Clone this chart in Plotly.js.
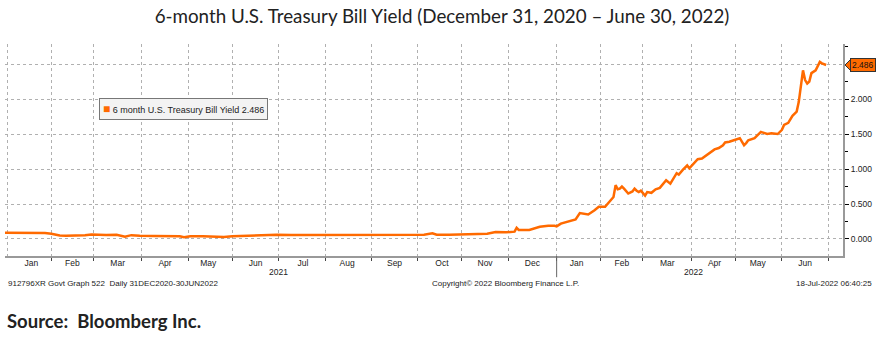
<!DOCTYPE html>
<html>
<head>
<meta charset="utf-8">
<script src="https://cdn.plot.ly/plotly-3.0.1.min.js"></script>
<style>html,body{margin:0;padding:0;background:#fff;}#chart{width:884px;height:337px;}</style>
</head>
<body>
<div id="chart"></div>
<script>
// ---- Data ----
const dates = [
  "2020-12-31","2021-01-08","2021-01-15","2021-01-22","2021-01-27","2021-02-01","2021-02-05","2021-02-10",
  "2021-02-16","2021-02-19","2021-02-23","2021-02-26","2021-03-03","2021-03-09","2021-03-16","2021-03-19",
  "2021-03-22","2021-03-25","2021-03-31","2021-04-09","2021-04-16","2021-04-23","2021-04-27","2021-04-29",
  "2021-05-04","2021-05-12","2021-05-19","2021-05-26","2021-06-01","2021-06-08","2021-06-15","2021-06-22",
  "2021-06-30","2021-07-09","2021-07-20","2021-07-30","2021-08-10","2021-08-20","2021-08-31","2021-09-10",
  "2021-09-17","2021-09-24","2021-09-30","2021-10-06","2021-10-12","2021-10-14","2021-10-22","2021-10-29",
  "2021-11-05","2021-11-10","2021-11-17","2021-11-23","2021-11-30","2021-12-06","2021-12-07","2021-12-08",
  "2021-12-15","2021-12-22","2021-12-28","2021-12-31",
  "2022-01-03","2022-01-05","2022-01-07","2022-01-11","2022-01-14","2022-01-18","2022-01-20","2022-01-24",
  "2022-01-27","2022-01-31","2022-02-03","2022-02-07","2022-02-08","2022-02-09","2022-02-10","2022-02-11",
  "2022-02-14","2022-02-15","2022-02-16","2022-02-18","2022-02-22","2022-02-23","2022-02-24","2022-02-25",
  "2022-02-28","2022-03-02","2022-03-03","2022-03-07","2022-03-09","2022-03-11","2022-03-16","2022-03-18",
  "2022-03-23","2022-03-24","2022-03-28","2022-03-30","2022-03-31","2022-04-04","2022-04-06","2022-04-08",
  "2022-04-13","2022-04-18","2022-04-20","2022-04-22","2022-04-25","2022-04-27","2022-05-04","2022-05-06",
  "2022-05-09","2022-05-10","2022-05-13","2022-05-17","2022-05-18","2022-05-23","2022-05-25","2022-05-30",
  "2022-06-01","2022-06-02","2022-06-06","2022-06-08","2022-06-10","2022-06-13","2022-06-14","2022-06-15",
  "2022-06-16","2022-06-17","2022-06-20","2022-06-21","2022-06-23","2022-06-27","2022-06-28","2022-06-30"
];
const yields = [
  0.090,0.090,0.090,0.090,0.085,0.075,0.050,0.047,
  0.050,0.050,0.055,0.065,0.060,0.058,0.060,0.045,
  0.033,0.055,0.045,0.043,0.043,0.050,0.040,0.025,
  0.040,0.040,0.035,0.030,0.040,0.045,0.050,0.058,
  0.060,0.058,0.058,0.058,0.058,0.055,0.058,0.055,
  0.050,0.055,0.055,0.060,0.080,0.060,0.060,0.065,
  0.065,0.075,0.075,0.100,0.095,0.105,0.160,0.130,
  0.130,0.175,0.190,0.190,
  0.180,0.220,0.240,0.260,0.280,0.370,0.360,0.350,
  0.410,0.460,0.460,0.530,0.560,0.600,0.770,0.710,
  0.720,0.750,0.720,0.650,0.680,0.720,0.690,0.670,
  0.690,0.620,0.670,0.660,0.710,0.730,0.840,0.790,
  0.940,0.920,0.990,1.050,1.010,1.080,1.140,1.150,
  1.210,1.280,1.300,1.340,1.380,1.390,1.440,1.340,
  1.370,1.410,1.440,1.510,1.530,1.500,1.510,1.500,
  1.560,1.630,1.660,1.760,1.820,1.960,2.220,2.410,
  2.270,2.220,2.250,2.370,2.410,2.530,2.510,2.486
];
const seriesName = "6 month U.S. Treasury Bill Yield";
const yearLabels = ["2021", "2022"];
const yearLabelDates = ["2021-07-01", "2022-04-04"];
const yearStart = "2022-01-01";

const lastVal = yields[yields.length - 1];
const orange = "#ff6a00";
const smallFam = "Liberation Sans, Arial, sans-serif";
const smallFont = {family: smallFam, size: 8, color: "#222"};

const trace = {
  x: dates, y: yields, type: "scatter", mode: "lines",
  line: {color: orange, width: 2.5, shape: "linear"},
  name: seriesName, showlegend: false, hoverinfo: "x+y"
};

const annotations = [
  {xref: "paper", yref: "paper", x: 0.112, y: 0.693, xanchor: "left", yanchor: "middle",
   text: '<span style="color:' + orange + ';font-size:12px">\u25A0</span> ' + seriesName + " " + lastVal.toFixed(3),
   showarrow: false, font: {family: smallFam, size: 9, color: "#222"},
   bgcolor: "#f3f3f3", bordercolor: "#777", borderwidth: 1, borderpad: 3},
  {xref: "paper", yref: "y", x: 1, y: lastVal, xanchor: "left", yanchor: "middle", xshift: 7,
   text: lastVal.toFixed(3), showarrow: false, font: {family: smallFam, size: 8.5, color: "#111"},
   bgcolor: orange, bordercolor: "#333", borderwidth: 1, borderpad: 1},
  {xref: "paper", yref: "paper", x: 0, y: 0, xanchor: "left", yanchor: "middle", xshift: 1, yshift: -27,
   text: "912796XR Govt Graph 522&nbsp;&nbsp;Daily 31DEC2020-30JUN2022", showarrow: false, font: smallFont},
  {xref: "paper", yref: "paper", x: 0.597, y: 0, xanchor: "center", yanchor: "middle", yshift: -27,
   text: "Copyright\u00A9 2022 Bloomberg Finance L.P.", showarrow: false, font: smallFont},
  {xref: "paper", yref: "paper", x: 1.037, y: 0, xanchor: "right", yanchor: "middle", yshift: -27,
   text: "18-Jul-2022 06:40:25", showarrow: false, font: smallFont},
  {xref: "paper", yref: "paper", x: 0, y: 0, xanchor: "left", yanchor: "middle", xshift: 0, yshift: -65,
   text: "<b>Source:&nbsp;&nbsp;Bloomberg Inc.</b>", showarrow: false,
   font: {family: "Lato, Calibri, sans-serif", size: 18.5, color: "#222"}}
];
yearLabels.forEach(function (t, i) {
  annotations.push({xref: "x", yref: "paper", x: yearLabelDates[i], y: 0, yanchor: "middle", yshift: -16,
    text: t, showarrow: false, font: {family: smallFam, size: 8.5, color: "#222"}});
});

const layout = {
  width: 884, height: 337,
  margin: {l: 5, r: 41, t: 44, b: 81},
  paper_bgcolor: "#fff", plot_bgcolor: "#fff",
  showlegend: false,
  title: {text: "6-month U.S. Treasury Bill Yield (December 31, 2020 \u2013 June 30, 2022)",
          x: 0.5, xanchor: "center", y: 0.95, yanchor: "middle", yref: "container",
          font: {family: "Lato, Calibri, sans-serif", size: 18.8, color: "#222"}},
  xaxis: {
    type: "date", range: ["2020-12-31", "2022-07-12"],
    rangebreaks: [{bounds: ["sat", "mon"]}],
    tick0: "2021-01-01", dtick: "M1", ticklabelmode: "period", tickformat: "%b",
    showgrid: true, gridcolor: "#b0b0b0", griddash: "dot", gridwidth: 1,
    ticks: "outside", ticklen: 3, tickcolor: "#444", ticklabelstandoff: -5,
    showline: true, linecolor: "#999", linewidth: 2,
    zeroline: false, tickfont: {family: smallFam, size: 8.5, color: "#222"}, fixedrange: true
  },
  yaxis: {
    side: "right", range: [-0.243, 2.786],
    tick0: 0, dtick: 0.5, tickformat: ".3f",
    showgrid: true, gridcolor: "#b0b0b0", griddash: "dot", gridwidth: 1,
    ticks: "outside", ticklen: 4, tickcolor: "#000",
    minor: {dtick: 0.25, ticks: "outside", ticklen: 3, tickcolor: "#000", showgrid: false},
    showline: true, linecolor: "#999", linewidth: 2,
    zeroline: false, tickfont: {family: smallFam, size: 8.5, color: "#222"}, fixedrange: true
  },
  shapes: [
    {type: "line", xref: "x", yref: "paper", x0: yearStart, x1: yearStart, y0: 0, y1: -0.1,
     line: {color: "#666", width: 1}},
    {type: "path", xref: "paper", yref: "y", xsizemode: "pixel", ysizemode: "pixel",
     xanchor: 1, yanchor: lastVal, path: "M 2 0 L 8 6 L 8 -6 Z",
     fillcolor: orange, line: {color: "#333", width: 1}}
  ],
  annotations: annotations
};

Plotly.newPlot("chart", [trace], layout, {displayModeBar: false, staticPlot: true});
</script>
</body>
</html>
